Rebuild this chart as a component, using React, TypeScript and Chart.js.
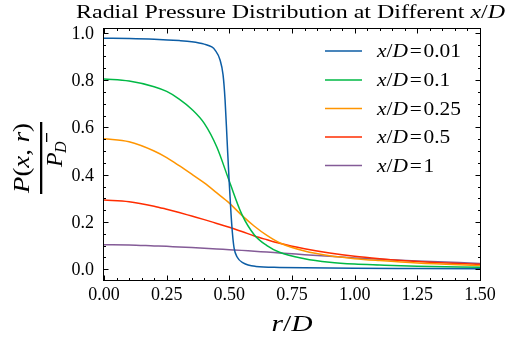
import React, { useEffect, useRef } from 'react';
import { Chart, registerables } from 'chart.js';

Chart.register(...registerables);

// ---------------- data ----------------
const seriesLabels = ['0.01', '0.1', '0.25', '0.5', '1'];
const seriesColors = ['#0C5DA5', '#00B945', '#FF9500', '#FF2C00', '#845B97'];

// x/D = 0.01 (sharp profile, sampled densely near r/D = 0.5)
const rBlue = [0, 0.1, 0.2, 0.3, 0.35, 0.4, 0.43, 0.443, 0.463, 0.475, 0.483, 0.491, 0.499, 0.507, 0.513, 0.519, 0.531, 0.555, 0.606, 0.7, 0.8, 1.0, 1.25, 1.5];
const pBlue = [0.977, 0.976, 0.973, 0.967, 0.962, 0.952, 0.94, 0.927, 0.885, 0.822, 0.716, 0.547, 0.378, 0.23, 0.145, 0.09, 0.052, 0.027, 0.012, 0.008, 0.006, 0.004, 0.003, 0.002];

// common radial grid for the smoother profiles
const rGrid = [0, 0.1, 0.2, 0.25, 0.3, 0.35, 0.4, 0.45, 0.5, 0.55, 0.6, 0.65, 0.7, 0.8, 0.9, 1.0, 1.1, 1.25, 1.5];
const pGreen = [0.805, 0.796, 0.772, 0.752, 0.72, 0.677, 0.617, 0.517, 0.372, 0.232, 0.145, 0.1, 0.072, 0.045, 0.03, 0.022, 0.018, 0.013, 0.009];
const pOrange = [0.552, 0.539, 0.5, 0.472, 0.438, 0.402, 0.365, 0.323, 0.28, 0.228, 0.182, 0.143, 0.112, 0.077, 0.057, 0.045, 0.037, 0.027, 0.016];
const pRed = [0.293, 0.286, 0.267, 0.254, 0.24, 0.225, 0.21, 0.194, 0.178, 0.16, 0.141, 0.125, 0.11, 0.087, 0.069, 0.055, 0.045, 0.033, 0.021];
const pPurple = [0.104, 0.103, 0.099, 0.097, 0.094, 0.092, 0.089, 0.086, 0.083, 0.08, 0.076, 0.073, 0.069, 0.062, 0.055, 0.048, 0.042, 0.035, 0.025];

const xTickValues = [0, 0.25, 0.5, 0.75, 1.0, 1.25, 1.5];
const xTickLabels = ['0.00', '0.25', '0.50', '0.75', '1.00', '1.25', '1.50'];
const yTickValues = [0, 0.2, 0.4, 0.6, 0.8, 1.0];
const yTickLabels = ['0.0', '0.2', '0.4', '0.6', '0.8', '1.0'];

const X_MIN = 0;
const X_MAX = 1.5;
const Y_MIN = -0.0495;
const Y_MAX = 1.0203;
const X_MINOR_STEP = 0.05;
const Y_MINOR_STEP = 0.05;

// ---------------- drawing helpers ----------------
const SERIF = '"Liberation Serif", "DejaVu Serif", serif';
const up = (s: number) => `${s}px ${SERIF}`;
const it = (s: number) => `italic ${s}px ${SERIF}`;

type Seg = { t: string; f: string; gap?: number };

function richWidth(ctx: CanvasRenderingContext2D, segs: Seg[]) {
  let w = 0;
  for (const s of segs) {
    ctx.font = s.f;
    w += ctx.measureText(s.t).width + (s.gap || 0);
  }
  return w;
}

function drawRich(
  ctx: CanvasRenderingContext2D,
  segs: Seg[],
  x: number,
  y: number,
  align: 'left' | 'center' | 'right',
  sx = 1
) {
  const w = richWidth(ctx, segs);
  ctx.save();
  ctx.translate(x, y);
  ctx.scale(sx, 1);
  ctx.textAlign = 'left';
  ctx.textBaseline = 'alphabetic';
  let cx = align === 'center' ? -w / 2 : align === 'right' ? -w : 0;
  for (const s of segs) {
    ctx.font = s.f;
    ctx.fillText(s.t, cx, 0);
    cx += ctx.measureText(s.t).width + (s.gap || 0);
  }
  ctx.restore();
}

const decor = {
  id: 'decor',
  afterDraw(chart: any) {
    const { ctx, chartArea: a, scales } = chart;
    const xs = scales.x;
    const ys = scales.y;
    ctx.save();
    ctx.fillStyle = '#000';
    ctx.strokeStyle = '#000';
    ctx.lineWidth = 1;

    const L = Math.round(a.left) - 0.5;
    const R = Math.round(a.right) + 0.5;
    const T = Math.round(a.top) + 0.5;
    const B = Math.round(a.bottom) - 0.5;
    ctx.strokeRect(L, T, R - L, B - T);

    const MAJ = 5;
    const MIN = 2.5;
    ctx.beginPath();
    for (let v = X_MIN; v <= X_MAX + 1e-9; v += X_MINOR_STEP) {
      const isMaj = xTickValues.some((m) => Math.abs(m - v) < 1e-6);
      const len = isMaj ? MAJ : MIN;
      const px = Math.round(xs.getPixelForValue(v)) + 0.5;
      ctx.moveTo(px, B);
      ctx.lineTo(px, B - len);
      ctx.moveTo(px, T);
      ctx.lineTo(px, T + len);
    }
    for (let v = 0; v <= Y_MAX + 1e-9; v += Y_MINOR_STEP) {
      const isMaj = yTickValues.some((m) => Math.abs(m - v) < 1e-6);
      const len = isMaj ? MAJ : MIN;
      const py = Math.round(ys.getPixelForValue(v)) + 0.5;
      ctx.moveTo(L, py);
      ctx.lineTo(L + len, py);
      ctx.moveTo(R, py);
      ctx.lineTo(R - len, py);
    }
    ctx.stroke();

    // tick labels
    ctx.font = up(18);
    ctx.textBaseline = 'alphabetic';
    ctx.textAlign = 'center';
    xTickValues.forEach((v, i) => {
      ctx.fillText(xTickLabels[i], xs.getPixelForValue(v), 300);
    });
    ctx.textAlign = 'right';
    yTickValues.forEach((v, i) => {
      ctx.fillText(yTickLabels[i], 94, ys.getPixelForValue(v) + 6);
    });

    // title
    const titleSegs: Seg[] = [
      { t: 'Radial Pressure Distribution at Different ', f: up(19) },
      { t: 'x', f: it(19) },
      { t: '/', f: up(19) },
      { t: 'D', f: it(19) },
    ];
    const tw = richWidth(ctx, titleSegs);
    drawRich(ctx, titleSegs, 290.5, 17.5, 'center', 429 / tw);

    // x-axis label
    const xl: Seg[] = [
      { t: 'r', f: it(24) },
      { t: '/', f: up(24) },
      { t: 'D', f: it(24) },
    ];
    drawRich(ctx, xl, 292, 331, 'center', 41 / richWidth(ctx, xl));

    // y-axis label (rotated fraction)
    const num: Seg[] = [
      { t: 'P', f: it(24) },
      { t: '(', f: up(24) },
      { t: 'x', f: it(24) },
      { t: ', ', f: up(24) },
      { t: 'r', f: it(24) },
      { t: ')', f: up(24) },
    ];
    ctx.save();
    ctx.translate(28.5, 193);
    ctx.rotate(-Math.PI / 2);
    drawRich(ctx, num, 0, 0, 'left', 70 / richWidth(ctx, num));
    ctx.restore();
    ctx.fillRect(40, 122, 2.3, 72);
    ctx.save();
    ctx.translate(62, 167);
    ctx.rotate(-Math.PI / 2);
    ctx.font = it(24);
    ctx.textAlign = 'left';
    ctx.fillText('P', 0, 0);
    ctx.restore();
    ctx.save();
    ctx.translate(66, 153);
    ctx.rotate(-Math.PI / 2);
    ctx.font = it(16);
    ctx.textAlign = 'left';
    ctx.fillText('D', 0, 0);
    ctx.restore();
    ctx.fillRect(46, 133, 1.3, 9);

    // legend
    const rowY = [51, 80, 108.5, 137, 165.5];
    const legendSegs = (lab: string): Seg[] => [
      { t: 'x', f: it(18) },
      { t: '/', f: up(18) },
      { t: 'D', f: it(18), gap: 1.5 },
      { t: '=', f: up(18), gap: 1.5 },
      { t: lab, f: up(18) },
    ];
    const lsx = 84 / richWidth(ctx, legendSegs(seriesLabels[0]));
    seriesLabels.forEach((lab, i) => {
      ctx.strokeStyle = seriesColors[i];
      ctx.lineWidth = 1.5;
      ctx.beginPath();
      ctx.moveTo(325, rowY[i]);
      ctx.lineTo(362, rowY[i]);
      ctx.stroke();
      ctx.fillStyle = '#000';
      drawRich(ctx, legendSegs(lab), 377, rowY[i] + 6, 'left', lsx);
    });

    ctx.restore();
  },
};

function pts(r: number[], p: number[]) {
  return r.map((v, i) => ({ x: v, y: p[i] }));
}

export default function App() {
  const ref = useRef<HTMLCanvasElement | null>(null);

  useEffect(() => {
    if (!ref.current) return;
    const series = [
      pts(rBlue, pBlue),
      pts(rGrid, pGreen),
      pts(rGrid, pOrange),
      pts(rGrid, pRed),
      pts(rGrid, pPurple),
    ];
    const chart = new Chart(ref.current, {
      type: 'line',
      data: {
        datasets: series.map((d, i) => ({
          label: `x/D = ${seriesLabels[i]}`,
          data: d,
          borderColor: seriesColors[i],
          backgroundColor: seriesColors[i],
          borderWidth: 1.5,
          pointRadius: 0,
          fill: false,
          cubicInterpolationMode: 'monotone' as const,
          borderJoinStyle: 'round' as const,
        })),
      },
      options: {
        animation: false,
        responsive: false,
        devicePixelRatio: 1,
        events: [],
        layout: { padding: { top: 28, right: 27, left: 0, bottom: 0 } },
        plugins: {
          legend: { display: false },
          title: { display: false },
          tooltip: { enabled: false },
        },
        scales: {
          x: {
            type: 'linear',
            min: X_MIN,
            max: X_MAX,
            grid: { display: false },
            border: { display: false },
            ticks: { display: false },
            afterFit: (s: any) => {
              s.height = 60;
            },
          },
          y: {
            type: 'linear',
            min: Y_MIN,
            max: Y_MAX,
            grid: { display: false },
            border: { display: false },
            ticks: { display: false },
            afterFit: (s: any) => {
              s.width = 104;
            },
          },
        },
      },
      plugins: [decor],
    });
    return () => chart.destroy();
  }, []);

  return (
    <div style={{ position: 'absolute', left: 0, top: 0, width: 507, height: 341, background: '#fff' }}>
      <canvas ref={ref} width={507} height={341} style={{ display: 'block', width: 507, height: 341 }} />
    </div>
  );
}
